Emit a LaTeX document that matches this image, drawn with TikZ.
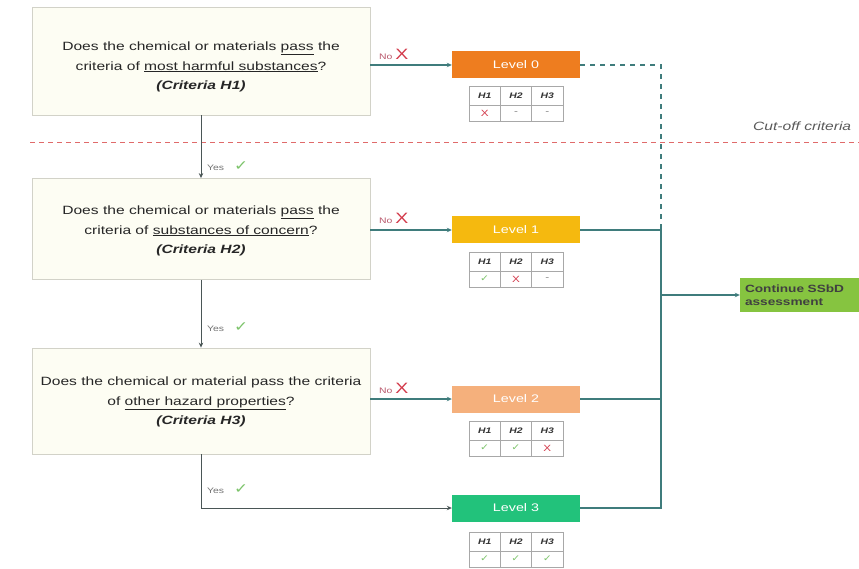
\documentclass[tikz,border=0pt]{standalone}
\usepackage{fontspec}
\setmainfont[FakeStretch=1.3]{Liberation Sans}
\newfontfamily\symf[FakeStretch=1.2]{DejaVu Sans}
\usetikzlibrary{arrows.meta}
\definecolor{conncol}{HTML}{3F7C7C}
\definecolor{vertcol}{HTML}{4A5656}
\definecolor{boxline}{HTML}{D2D2C8}
\definecolor{boxfill}{HTML}{FDFDF3}
\definecolor{cutred}{HTML}{E06A6A}
\definecolor{lvzero}{HTML}{EE7D1F}
\definecolor{lvone}{HTML}{F5B90F}
\definecolor{lvtwo}{HTML}{F5B07C}
\definecolor{lvthree}{HTML}{22C27B}
\definecolor{contg}{HTML}{86C440}
\definecolor{ckgreen}{HTML}{7CC36A}
\definecolor{xred}{HTML}{D2394A}
\definecolor{nored}{HTML}{B8566A}
\definecolor{tabline}{HTML}{A8A8A8}
\newcommand\ckm{{\symf\color{ckgreen}\char"2713}}
\newcommand\xm{{\color{xred}X}}
\newcommand\dm{{\color{gray}-}}
\newcommand\nolab{{\fontsize{8}{10}\selectfont\color{nored}No }{\fontsize{15}{16}\selectfont\color{xred}X}}
\newcommand\yeslab{{\fontsize{8}{10}\selectfont\color{gray!90!black}Yes }\hspace{7pt}{\fontsize{14}{16}\selectfont\ckm}}
\newcommand\lvtab[6]{%
  \draw[tabrule] (#2-47,#3) rectangle (#2+47,#3+35);
  \draw[tabrule] (#2-47,#3+19) -- (#2+47,#3+19);
  \draw[tabrule] (#2-15.7,#3) -- (#2-15.7,#3+35);
  \draw[tabrule] (#2+15.7,#3) -- (#2+15.7,#3+35);
  \node[tabhd] (#1ha) at (#2-31.3,#3+9.5) {H1};
  \node[tabhd] (#1hb) at (#2,#3+9.5) {H2};
  \node[tabhd] (#1hc) at (#2+31.3,#3+9.5) {H3};
  \node[tabval] (#1va) at (#2-31.3,#3+27) {#4};
  \node[tabval] (#1vb) at (#2,#3+27) {#5};
  \node[tabval] (#1vc) at (#2+31.3,#3+27) {#6};
}
\begin{document}
\begin{tikzpicture}[x=1pt,y=-1pt,
  qbox/.style={draw=boxline, line width=0.8pt, fill=boxfill, minimum width=338pt, inner sep=0pt},
  qtext/.style={align=center, font=\fontsize{12}{19.5}\selectfont, inner sep=0pt, text=black!85},
  lvl/.style={minimum width=128pt, minimum height=27pt, inner sep=0pt, text=white,
    font=\fontsize{11}{13}\selectfont},
  conn/.style={draw=conncol, line width=1.1pt},
  arr/.style={conn, -{Stealth[length=5pt,width=4.5pt]}},
  varr/.style={draw=vertcol, line width=1pt, -{Stealth[length=5pt,width=4.5pt]}},
  tabrule/.style={draw=tabline, line width=0.6pt},
  tabhd/.style={inner sep=0pt, font=\fontsize{8}{9}\selectfont\bfseries\itshape, text=black!80},
  tabval/.style={inner sep=0pt, font=\fontsize{9}{10}\selectfont},
  lab/.style={inner sep=0pt, anchor=base west}]
\useasboundingbox (0,0) rectangle (859,569);

% question boxes
\node[qbox, minimum height=108pt] (b1) at (201,61) {};
\node[qtext] (q1) at (201,67)
  {Does the chemical or materials \underline{pass} the\\
   criteria of \underline{most harmful substances}?\\
   \textbf{\textit{(Criteria H1)}}};
\node[qbox, minimum height=101pt] (b2) at (201,229) {};
\node[qtext] (q2) at (201,231)
  {Does the chemical or materials \underline{pass} the\\
   criteria of \underline{substances of concern}?\\
   \textbf{\textit{(Criteria H2)}}};
\node[qbox, minimum height=106pt] (b3) at (201,401) {};
\node[qtext] (q3) at (201,402)
  {Does the chemical or material pass the criteria\\
   of \underline{other hazard properties}?\\
   \textbf{\textit{(Criteria H3)}}};

% cut-off line
\coordinate (cA) at (30,143);
\coordinate (cB) at (859,143);
\draw[draw=cutred, line width=1pt, dash pattern=on 5pt off 4pt] (cA) -- (cB);
\node[lab, font=\fontsize{12}{14}\selectfont\itshape, text=black!65] (cut) at (753,131) {Cut-off criteria};

% levels
\node[lvl, fill=lvzero] (l0) at (516,65) {Level 0};
\node[lvl, fill=lvone] (l1) at (516,230) {Level 1};
\node[lvl, fill=lvtwo] (l2) at (516,399) {Level 2};
\node[lvl, fill=lvthree] (l3) at (516,508) {Level 3};

\lvtab{t0}{516}{86}{\xm}{\dm}{\dm}
\lvtab{t1}{516}{252}{\ckm}{\xm}{\dm}
\lvtab{t2}{516}{421}{\ckm}{\ckm}{\xm}
\lvtab{t3}{516}{532}{\ckm}{\ckm}{\ckm}

% continue box
\node[fill=contg, minimum width=130pt, minimum height=34pt, inner xsep=5pt, inner ysep=0pt,
  text width=120pt, align=left, font=\fontsize{10.5}{13.5}\selectfont\bfseries, text=black!75]
  (cont) at (805,295) {Continue SSbD\\assessment};

% yes arrows
\draw[varr] (b1.south) -- (b2.north);
\draw[varr] (b2.south) -- (b3.north);
\draw[varr] (b3.south) |- (l3.west);
\node[lab] (y1) at (207,171) {\yeslab};
\node[lab] (y2) at (207,331) {\yeslab};
\node[lab] (y3) at (207,493) {\yeslab};

% no arrows
\draw[arr] (b1.east |- l0.west) -- (l0.west);
\draw[arr] (b2.east |- l1.west) -- (l1.west);
\draw[arr] (b3.east |- l2.west) -- (l2.west);
\node[lab] (n0) at (379,60) {\nolab};
\node[lab] (n1) at (379,224) {\nolab};
\node[lab] (n2) at (379,393) {\nolab};

% collector
\coordinate (j1) at (661,230);
\coordinate (jc) at (661,295);
\coordinate (j3) at (661,508);
\draw[conn, dash pattern=on 5pt off 5pt] (l0.east) -| (j1);
\draw[conn] (l1.east) -- (j1) -- (j3) -- (l3.east);
\draw[conn] (l2.east) -- (l2.east -| j1);
\draw[arr] (jc) -- (cont.west);
\end{tikzpicture}
\end{document}
